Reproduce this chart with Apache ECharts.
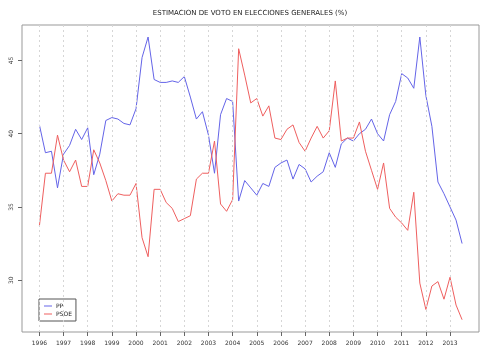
<!DOCTYPE html>
<html>
<head>
<meta charset="utf-8">
<script src="https://cdn.jsdelivr.net/npm/echarts@6/dist/echarts.min.js"></script>
<style>html,body{margin:0;padding:0;background:#fff;}#c{width:500px;height:350px;}</style>
</head>
<body>
<div id="c"></div>
<script>
// Tick labels (years) and quarterly poll estimates, first value = 1996 Q1
const years = [1996,1997,1998,1999,2000,2001,2002,2003,2004,2005,2006,2007,2008,2009,2010,2011,2012,2013];
const yTicks = [30,35,40,45];
const startYear = 1996;
const pointsPerYear = 4;
const ppValues = [
  40.6,38.7,38.8,36.3,38.6,39.2,40.3,39.6,40.4,37.2,38.6,40.9,41.1,41.0,40.7,40.6,
  41.7,45.2,46.6,43.7,43.5,43.5,43.6,43.5,43.9,42.5,41.0,41.5,39.9,37.3,41.3,42.4,
  42.2,35.4,36.8,36.3,35.8,36.6,36.4,37.7,38.0,38.2,36.9,37.9,37.6,36.7,37.1,37.4,
  38.7,37.7,39.3,39.7,39.5,40.0,40.3,41.0,40.0,39.5,41.3,42.2,44.1,43.8,43.1,46.6,
  42.6,40.5,36.7,35.9,35.0,34.1,32.5
];
const psoeValues = [
  33.7,37.3,37.3,39.9,38.2,37.4,38.2,36.4,36.4,38.9,38.0,36.8,35.4,35.9,35.8,35.8,
  36.6,32.9,31.6,36.2,36.2,35.3,34.9,34.0,34.2,34.4,36.9,37.3,37.3,39.5,35.2,34.7,
  35.5,45.8,44.0,42.1,42.4,41.2,41.9,39.7,39.6,40.3,40.6,39.4,38.8,39.7,40.5,39.7,
  40.2,43.6,39.5,39.7,39.7,40.8,38.8,37.5,36.2,38.0,34.9,34.3,33.9,33.4,36.0,29.8,
  28.0,29.6,29.9,28.7,30.2,28.3,27.3
];

const toPoints = vals => vals.map((v, i) => [startYear + i / pointsPerYear, v]);
const font = 'DejaVu Sans';

const chart = echarts.init(document.getElementById('c'), null, {renderer: 'canvas'});
chart.setOption({
  animation: false,
  backgroundColor: '#ffffff',
  textStyle: {fontFamily: font},
  title: {
    text: 'ESTIMACION DE VOTO EN ELECCIONES GENERALES (%)',
    left: 'center', top: 5,
    textStyle: {fontFamily: font, fontSize: 7, fontWeight: 'normal', color: '#222'}
  },
  legend: {
    data: ['PP', 'PSOE'],
    orient: 'vertical',
    left: 39, top: 299,
    icon: 'rect',
    itemWidth: 8, itemHeight: 1,
    itemGap: 1,
    padding: [3.5, 4, 3.5, 5],
    borderColor: '#555', borderWidth: 1,
    backgroundColor: '#fff',
    textStyle: {fontFamily: font, fontSize: 6, color: '#222', lineHeight: 7, padding: [0,0,0,-1]}
  },
  grid: {
    left: 22, right: 21, top: 25, bottom: 18,
    show: true, borderColor: '#999', borderWidth: 1, backgroundColor: 'transparent'
  },
  xAxis: {
    type: 'value',
    min: 1995.28, max: 2014.2,
    axisLine: {show: false},
    splitLine: {show: false},
    axisTick: {show: true, customValues: years, length: 4, lineStyle: {color: '#666'}},
    axisLabel: {customValues: years, fontSize: 6, color: '#333', margin: 8, fontFamily: font,
      formatter: v => String(v)}
  },
  yAxis: {
    type: 'value',
    min: 26.46, max: 47.42,
    axisLine: {show: false},
    splitLine: {show: false},
    axisTick: {show: true, customValues: yTicks, length: 4, lineStyle: {color: '#666'}},
    axisLabel: {customValues: yTicks, rotate: 90, fontSize: 6, color: '#333', margin: 8, fontFamily: font,
      formatter: v => String(v)}
  },
  series: [
    {
      name: 'grid', type: 'line', data: [], silent: true,
      markLine: {
        silent: true, symbol: 'none', label: {show: false},
        lineStyle: {type: [2, 3], color: '#d6d6d6', width: 1},
        data: years.map(y => ({xAxis: y}))
      }
    },
    {
      name: 'PP', type: 'line', data: toPoints(ppValues),
      showSymbol: false, symbol: 'none',
      color: '#6464e8',
      lineStyle: {width: 1, color: '#6464e8'}
    },
    {
      name: 'PSOE', type: 'line', data: toPoints(psoeValues),
      showSymbol: false, symbol: 'none',
      color: '#ef5f5f',
      lineStyle: {width: 1, color: '#ef5f5f'}
    }
  ]
});
</script>
</body>
</html>
